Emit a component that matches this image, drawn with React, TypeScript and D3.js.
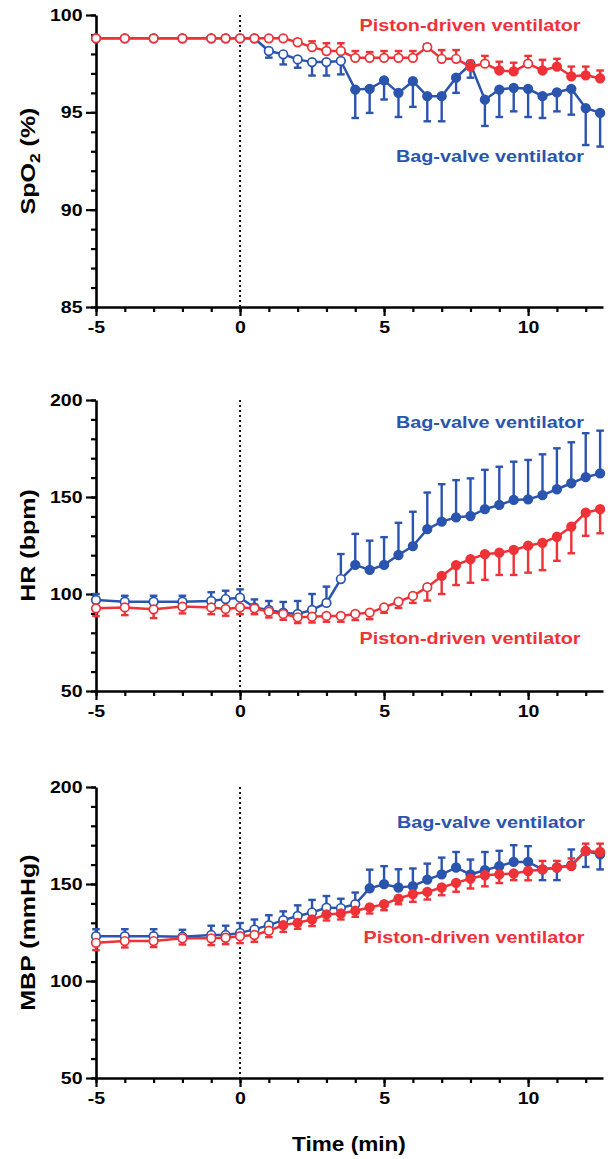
import React, { useEffect, useRef } from 'react'
import * as d3 from 'd3'

// sampling times (min), same for every panel
const times = [-5, -4, -3, -2, -1, -0.5, 0, 0.5, 1, 1.5, 2, 2.5, 3, 3.5, 4, 4.5, 5, 5.5, 6, 6.5, 7, 7.5, 8, 8.5, 9, 9.5, 10, 10.5, 11, 11.5, 12, 12.5]

// SpO2 (%)
const spo2Piston = [98.8, 98.8, 98.8, 98.8, 98.8, 98.8, 98.8, 98.8, 98.8, 98.8, 98.6, 98.35, 98.15, 98.15, 97.8, 97.8, 97.8, 97.8, 97.8, 98.35, 97.75, 97.75, 97.35, 97.5, 97.15, 97.1, 97.5, 97.15, 97.35, 96.85, 96.9, 96.75]
const spo2PistonSd = [0, 0, 0, 0, 0, 0, 0, 0, 0, 0.05, 0.15, 0.3, 0.4, 0.4, 0.35, 0.3, 0.35, 0.35, 0.35, 0.15, 0.45, 0.45, 0.3, 0.4, 0.45, 0.45, 0.4, 0.55, 0.4, 0.5, 0.45, 0.4]
const spo2PistonSig = [0, 0, 0, 0, 0, 0, 0, 0, 0, 0, 0, 0, 0, 0, 0, 0, 0, 0, 0, 0, 0, 0, 1, 0, 1, 1, 0, 1, 1, 1, 1, 1]
const spo2Bag = [98.8, 98.8, 98.8, 98.8, 98.8, 98.8, 98.8, 98.8, 98.15, 97.98, 97.72, 97.58, 97.58, 97.64, 96.17, 96.21, 96.64, 96.0, 96.6, 95.83, 95.83, 96.78, 97.47, 95.65, 96.17, 96.26, 96.21, 95.83, 96.03, 96.21, 95.22, 94.97]
const spo2BagSd = [0, 0, 0, 0, 0, 0, 0, 0, -0.34, -0.52, -0.43, -0.69, -0.69, -0.69, -1.46, -1.24, -0.98, -1.24, -1.32, -1.29, -1.29, -0.78, -0.69, -1.35, -1.41, -1.21, -1.45, -1.12, -0.98, -1.33, -1.9, -1.73]
const spo2BagSig = [0, 0, 0, 0, 0, 0, 0, 0, 0, 0, 0, 0, 0, 0, 1, 1, 1, 1, 1, 1, 1, 1, 0, 1, 1, 1, 1, 1, 1, 1, 1, 1]

// HR (bpm)
const hrPiston = [92.6, 93.1, 92.1, 93.5, 93.1, 92.3, 93.1, 92.6, 90.9, 89.7, 88.0, 88.3, 88.7, 88.7, 89.7, 90.4, 93.1, 96.0, 99.0, 103.5, 109.3, 114.9, 118, 120.5, 121.3, 122.7, 124.9, 126.4, 129.5, 134.7, 141.9, 143.7]
const hrPistonSd = [-4, -4, -4.5, -3.5, -3.5, -3.5, -3.5, -3, -3, -3, -3, -3, -3, -3, -3.1, -3.4, -2.8, -3.2, -3.6, -6.9, -9.3, -10.3, -12.2, -13.2, -11.5, -12.9, -13.9, -14.1, -12.4, -13.7, -11.9, -12.4]
const hrPistonSig = [0, 0, 0, 0, 0, 0, 0, 0, 0, 0, 0, 0, 0, 0, 0, 0, 0, 0, 0, 0, 1, 1, 1, 1, 1, 1, 1, 1, 1, 1, 1, 1]
const hrBag = [96.9, 96.0, 96.0, 96.0, 96.4, 97.4, 98.1, 93.1, 91.8, 90.4, 89.7, 91.8, 95.4, 107.7, 115, 112.4, 115, 120.1, 124.7, 133.4, 137.3, 139.5, 140.2, 143.7, 145.9, 148.5, 148.8, 151, 154, 157.1, 160.2, 162.2]
const hrBagSd = [3.1, 3.1, 3.1, 3.1, 4.5, 4.3, 4.3, 4.1, 4.6, 5.5, 6.7, 8.2, 8.4, 12.9, 16, 15.1, 14.3, 16.6, 17.7, 18.9, 19.3, 19.2, 19.4, 20.3, 19.7, 19.7, 20.3, 21, 21.1, 21.1, 22.7, 22]
const hrBagSig = [0, 0, 0, 0, 0, 0, 0, 0, 0, 0, 0, 0, 0, 0, 1, 1, 1, 1, 1, 1, 1, 1, 1, 1, 1, 1, 1, 1, 1, 1, 1, 1]

// MBP (mmHg)
const mbpPiston = [119.7, 120.6, 120.6, 122, 122, 122.3, 123.1, 123.7, 125.9, 128.8, 130, 131.7, 134.3, 134.8, 136.2, 137.9, 139.6, 142.5, 144.8, 145.9, 148.2, 150.6, 152.8, 154.5, 155, 155.4, 156.7, 157.5, 158.5, 159.2, 167, 166.5]
const mbpPistonSd = [-3.8, -3.3, -3.1, -3.2, -3.5, -3.3, -3.6, -3.5, -3.3, -3.5, -3.1, -3.4, -3.1, -3.1, -3.1, -3.1, -3.1, -2.9, -4, -3.9, -4, -4.6, -5.1, -5.7, -4.5, -3.4, -4.8, 4.4, 3.4, 4, 3.8, 4.3]
const mbpPistonSig = [0, 0, 0, 0, 0, 0, 0, 0, 0, 1, 1, 1, 1, 1, 1, 1, 1, 1, 1, 1, 1, 1, 1, 1, 1, 1, 1, 1, 1, 1, 1, 1]
const mbpBag = [123.1, 123.1, 123.1, 122.8, 123.7, 123.7, 124.8, 126.6, 128.8, 131.4, 133.5, 135.3, 137.8, 137.6, 139.6, 147.8, 149.9, 148.2, 148.9, 152.3, 155, 158.5, 155, 157.1, 159.2, 161.4, 161.4, 157.5, 158.5, 159.7, 167, 165.3]
const mbpBagSd = [3.6, 3.6, 3.6, 3.6, 4.8, 4.8, 5.1, 5.1, 5.1, 4.5, 5.5, 6.5, 6, 4.8, 6, 9.6, 9.3, 9.4, 9.1, 8.2, 8.6, 8, 7.6, 9.4, 7.9, 8.6, 8.1, -5.5, -6.5, 8.1, -8.2, -7.8]
const mbpBagSig = [0, 0, 0, 0, 0, 0, 0, 0, 0, 0, 0, 0, 0, 0, 0, 1, 1, 1, 1, 1, 1, 1, 1, 1, 1, 1, 1, 1, 1, 1, 1, 1]

const pistonName = 'Piston-driven ventilator'
const bagName = 'Bag-valve ventilator'

const RED = '#ee3237'
const BLUE = '#2a54ad'
const FONT = '"Liberation Sans", Arial, Helvetica, sans-serif'

const App = () => {
  const ref = useRef(null)

  useEffect(() => {
    const svg = d3.select(ref.current)
    svg.selectAll('*').remove()

    const x = d3.scaleLinear().domain([-5, 12.6]).range([96, 603])

    const panels = [
      {
        title: 'SpO', sub: '2', titleRest: ' (%)', top: 15, bottom: 307, domain: [85, 100], major: [85, 90, 95, 100], minor: 1,
        bag: spo2Bag, bagSd: spo2BagSd, bagSig: spo2BagSig,
        piston: spo2Piston, pistonSd: spo2PistonSd, pistonSig: spo2PistonSig,
        bagLabel: [490, 162], pistonLabel: [470, 31],
      },
      {
        title: 'HR (bpm)', top: 400, bottom: 691, domain: [50, 200], major: [50, 100, 150, 200], minor: 10,
        bag: hrBag, bagSd: hrBagSd, bagSig: hrBagSig,
        piston: hrPiston, pistonSd: hrPistonSd, pistonSig: hrPistonSig,
        bagLabel: [490, 428], pistonLabel: [470, 644],
      },
      {
        title: 'MBP (mmHg)', top: 787, bottom: 1078, domain: [50, 200], major: [50, 100, 150, 200], minor: 10,
        bag: mbpBag, bagSd: mbpBagSd, bagSig: mbpBagSig,
        piston: mbpPiston, pistonSd: mbpPistonSd, pistonSig: mbpPistonSig,
        bagLabel: [491, 828], pistonLabel: [474, 943],
      },
    ]

    panels.forEach(p => {
      const y = d3.scaleLinear().domain(p.domain).range([p.bottom, p.top])
      const g = svg.append('g')

      // y axis, minor ticks first
      const minors = d3.range(p.domain[0], p.domain[1] + 0.001, p.minor)
      const yMinor = g.append('g').attr('transform', `translate(${x(-5)},0)`)
        .call(d3.axisLeft(y).tickValues(minors).tickSize(5).tickSizeOuter(0).tickFormat(() => ''))
      yMinor.select('.domain').remove()
      const yAxis = g.append('g').attr('transform', `translate(${x(-5)},0)`)
        .call(d3.axisLeft(y).tickValues(p.major).tickSize(10).tickSizeOuter(0).tickFormat(d => String(d)))
      yAxis.select('.domain').attr('stroke', '#000').attr('stroke-width', 2.6)
      yAxis.selectAll('.tick text')
        .attr('x', -13.5 / 1.15)
        .attr('transform', 'scale(1.15,1)')
        .attr('font-family', FONT).attr('font-weight', 700).attr('font-size', 17).attr('fill', '#000')

      // x axis
      const xMinor = g.append('g').attr('transform', `translate(0,${p.bottom})`)
        .call(d3.axisBottom(x).tickValues(d3.range(-5, 13, 1)).tickSize(5).tickSizeOuter(0).tickFormat(() => ''))
      xMinor.select('.domain').remove()
      const xAxis = g.append('g').attr('transform', `translate(0,${p.bottom})`)
        .call(d3.axisBottom(x).tickValues([-5, 0, 5, 10]).tickSize(9).tickSizeOuter(0).tickPadding(5).tickFormat(d => String(d)))
      xAxis.select('.domain').attr('stroke', '#000').attr('stroke-width', 2.6)
      xAxis.selectAll('.tick text')
        .attr('transform', 'scale(1.15,1)')
        .attr('font-family', FONT).attr('font-weight', 700).attr('font-size', 17).attr('fill', '#000')
      g.selectAll('.tick line').attr('stroke', '#000').attr('stroke-width', 2.2)

      // dotted line at time 0
      g.append('line')
        .attr('x1', x(0)).attr('x2', x(0))
        .attr('y1', p.top).attr('y2', p.bottom)
        .attr('stroke', '#000').attr('stroke-width', 1.8)
        .attr('stroke-dasharray', '2 3')

      // y title
      const ty = (p.top + p.bottom) / 2
      const t = g.append('text')
        .attr('transform', `translate(35,${ty}) rotate(-90) scale(1.25,1)`)
        .attr('text-anchor', 'middle')
        .attr('font-family', FONT).attr('font-weight', 700).attr('font-size', 20)
      if (p.sub) {
        t.append('tspan').text(p.title)
        t.append('tspan').attr('font-size', 14).attr('dy', 5).text(p.sub)
        t.append('tspan').attr('dy', -5).text(p.titleRest)
      } else {
        t.text(p.title)
      }

      const drawSeries = (vals, sds, sig, color) => {
        const pts = times.map((tm, i) => ({ t: tm, v: vals[i], sd: sds[i], s: sig[i] }))
        const bars = g.append('g').attr('stroke', color).attr('stroke-width', 2.4)
        pts.filter(d => d.sd !== 0).forEach(d => {
          bars.append('line')
            .attr('x1', x(d.t)).attr('x2', x(d.t))
            .attr('y1', y(d.v)).attr('y2', y(d.v + d.sd))
          bars.append('line')
            .attr('x1', x(d.t) - 3.8).attr('x2', x(d.t) + 3.8)
            .attr('y1', y(d.v + d.sd)).attr('y2', y(d.v + d.sd))
        })
        g.append('path')
          .datum(pts)
          .attr('fill', 'none')
          .attr('stroke', color)
          .attr('stroke-width', 2.5)
          .attr('d', d3.line().x(d => x(d.t)).y(d => y(d.v)))
        g.append('g').selectAll('circle')
          .data(pts)
          .enter()
          .append('circle')
          .attr('cx', d => x(d.t))
          .attr('cy', d => y(d.v))
          .attr('r', 4.3)
          .attr('fill', d => (d.s ? color : '#fff'))
          .attr('stroke', color)
          .attr('stroke-width', 1.7)
      }

      drawSeries(p.bag, p.bagSd, p.bagSig, BLUE)
      drawSeries(p.piston, p.pistonSd, p.pistonSig, RED)

      // series labels
      const label = (pos, text, color) => {
        g.append('text')
          .attr('transform', `translate(${pos[0]},${pos[1]}) scale(1.2,1)`)
          .attr('text-anchor', 'middle')
          .attr('font-family', FONT).attr('font-weight', 700).attr('font-size', 16.5)
          .attr('fill', color)
          .text(text)
      }
      label(p.bagLabel, bagName, BLUE)
      label(p.pistonLabel, pistonName, RED)
    })

    svg.append('text')
      .attr('transform', 'translate(349,1151) scale(1.13,1)')
      .attr('text-anchor', 'middle')
      .attr('font-family', FONT).attr('font-weight', 700).attr('font-size', 20)
      .text('Time (min)')
  }, [])

  return (
    <svg ref={ref} width={608} height={1159}
      style={{ position: 'absolute', left: 0, top: 0, background: '#fff' }} />
  )
}

export default App
